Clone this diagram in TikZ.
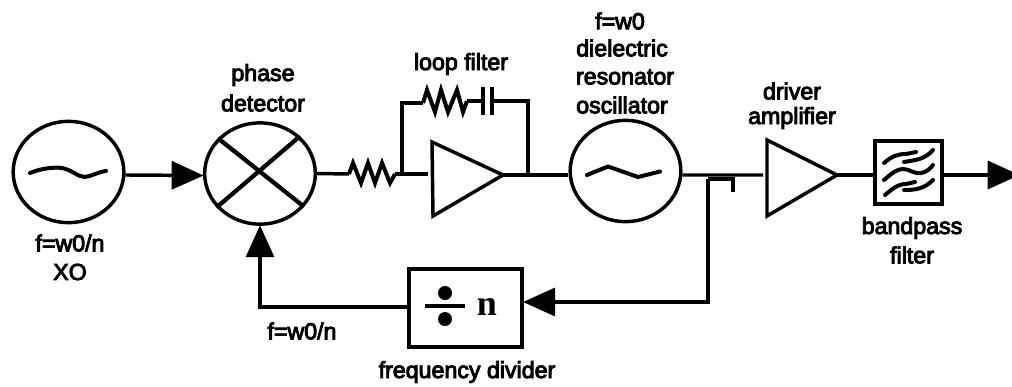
\documentclass[tikz,border=0pt]{standalone}
\usepackage{fontspec}
\setmainfont{Liberation Sans}[FakeBold=4]
\newfontfamily\serifb{Liberation Serif Bold}
\usetikzlibrary{arrows.meta,shapes.geometric}
\tikzset{
  x=0.75pt,y=-0.75pt,
  wire/.style={line width=2.6pt},
  resist/.style={line width=3pt,line join=miter},
  arrowwire/.style={line width=2.6pt,-{Triangle[length=24pt,width=21pt]},shorten >=-0.5pt},
  osc/.style={draw,ellipse,line width=2.6pt,inner sep=0pt,minimum width=83pt,minimum height=76pt},
  boxed/.style={draw,rectangle,line width=2.6pt,inner sep=0pt},
  label/.style={font=\fontsize{17.4}{20}\selectfont,align=center,inner sep=0pt,anchor=center},
  squig/.style={line width=3pt,line cap=round,line join=round},
  amp/.style={line width=2.6pt,line join=miter}
}
\begin{document}
\begin{tikzpicture}
\useasboundingbox (0,0) rectangle (1012,386);
% blocks
\node[osc] (xo) at (68.5,172) {};
\node[osc] (pd) at (260,173.5) {};
\node[osc] (dro) at (625.5,171) {};
\node[boxed,minimum width=84.75pt,minimum height=58.5pt] (div) at (465.5,308) {};
\node[boxed,minimum width=50pt,minimum height=47pt] (bpf) at (908.5,172.5) {};
% amplifiers
\coordinate (a1in) at (432,175);
\coordinate (a1out) at (503,175);
\draw[amp] (432,142) -- (a1out) -- (433,216) -- cycle;
\coordinate (a2in) at (767,175);
\coordinate (a2out) at (837,175);
\draw[amp] (767,140) -- (a2out) -- (767,216) -- cycle;
% oscillator tildes
\draw[squig] (30,173) .. controls (42,168) and (55,167) .. (62,168) .. controls (72,170) and (78,177) .. (85,177) .. controls (92,176) and (98,172) .. (106,171);
\draw[squig] (587,175) -- (608,166.5) -- (638,177) -- (660,171.5);
% mixer cross
\draw[line width=3.2pt] (pd.140) -- (pd.-37);
\draw[line width=3.2pt] (pd.-142) -- (pd.43);
% resistor 1
\coordinate (r1a) at (349,174);
\coordinate (r1b) at (395,174);
\draw[resist] (r1a) -- (353,163) -- (361,183) -- (368,163) -- (375,183) -- (382,163) -- (390,183) -- (r1b);
% feedback network
\coordinate (jn) at (402,174);
\coordinate (jo) at (528,175);
\coordinate (r2a) at (423,103);
\coordinate (r2b) at (467,101);
\coordinate (c1) at (483,101);
\coordinate (c2) at (492,101);
\draw[resist] (r2a) -- (427,90) -- (435,112) -- (441,90) -- (448,112) -- (457,90) -- (463,112) -- (r2b);
\draw[line width=2.6pt] (483,87) -- (483,115) (492,87) -- (492,115);
\draw[wire] (jn) |- (r2a);
\draw[wire] (r2b) -- (c1);
\draw[wire] (c2) -| (jo);
% wires
\draw[arrowwire] (xo.-3) -- (pd.west |- 0,175.5);
\draw[wire] (pd.east) -- (r1a);
\draw[wire] (r1b) -- (428,174);
\draw[wire] (a1out) -- (dro.west |- a1out);
\coordinate (dout) at (763,175);
\draw[wire] (dro.-4) -- (dout);
\draw[wire] (a2out) -- (bpf.west |- a2out);
\coordinate (outp) at (1019,175);
\draw[arrowwire] (bpf.east |- outp) -- (outp);
% tap to divider
\coordinate (tap) at (708,179);
\coordinate (stub) at (733,192);
\draw[line width=2.6pt,line join=miter] (stub) |- (tap);
\draw[arrowwire] (tap) |- (div.east |- 0,302);
\draw[arrowwire] (div.west |- 0,307) -| (pd.south);
% divide symbol
\node[circle,fill=black,inner sep=0pt,minimum size=10.5pt] (dot1) at (445,293) {};
\node[circle,fill=black,inner sep=0pt,minimum size=10.5pt] (dot2) at (445,319) {};
\draw[line width=2.6pt] (425,306) -- (465,306);
\node[inner sep=0pt,font=\serifb\fontsize{27}{27}\selectfont] (nn) at (487,307) {n};
% bandpass squiggles
\draw[squig] (884,163) .. controls (892,156) and (898,154) .. (906,154) -- (916,152);
\draw[squig] (904,162) .. controls (915,160) and (924,160) .. (933,150);
\draw[squig] (884,180) .. controls (892,173) and (897,169) .. (903,169) .. controls (910,169) and (913,174) .. (921,173) .. controls (926,172) and (929,170) .. (933,165);
\draw[squig] (885,195) .. controls (892,189) and (898,184) .. (906,184) -- (915,182);
\draw[squig] (904,190) .. controls (915,190) and (924,189) .. (933,180);
% labels
\node[label] (lpd1) at (263,75) {phase};
\node[label] (lpd2) at (263,103) {detector};
\node[label] (lxo1) at (70,243) {f=w0/n};
\node[label] (lxo2) at (70,272) {XO};
\node[label] (llf) at (461,64) {loop filter};
\node[label] (ld1) at (620,21) {f=w0};
\node[label] (ld2) at (622,48) {dielectric};
\node[label] (ld3) at (625,77) {resonator};
\node[label] (ld4) at (622,105) {oscillator};
\node[label] (ldr1) at (792,91) {driver};
\node[label] (ldr2) at (792,118) {amplifier};
\node[label] (lb1) at (912,228) {bandpass};
\node[label] (lb2) at (912,255) {filter};
\node[label] (lfb) at (302,331) {f=w0/n};
\node[label] (lfd) at (467,372) {frequency divider};
\end{tikzpicture}
\end{document}
